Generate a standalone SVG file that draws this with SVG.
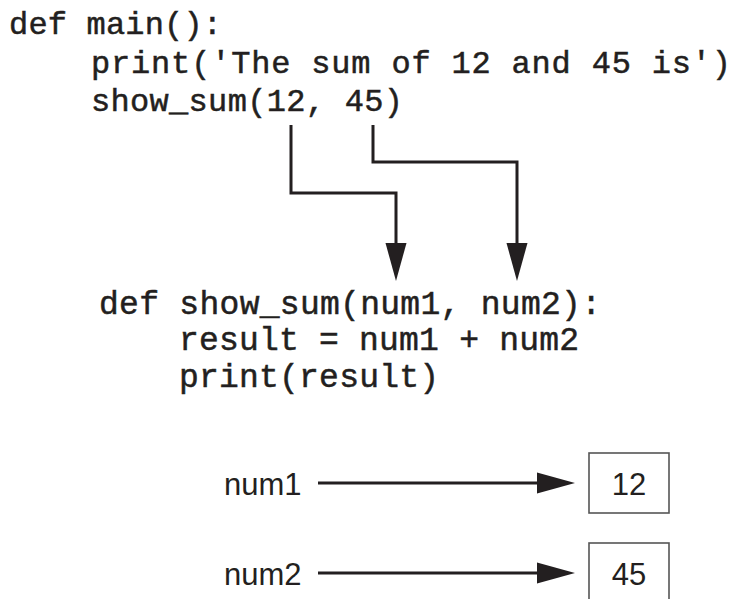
<svg xmlns="http://www.w3.org/2000/svg" width="731" height="599" viewBox="0 0 731 599">
<style>
.code{font-family:"Liberation Mono","DejaVu Sans Mono",monospace;font-size:32px;fill:#231f20;stroke:#231f20;stroke-width:0.5}
.code2{font-family:"Liberation Mono","DejaVu Sans Mono",monospace;font-size:33px;fill:#231f20;stroke:#231f20;stroke-width:0.5}
.lbl{font-family:"Liberation Sans",Arial,sans-serif;font-size:31px;fill:#231f20}
.ln{fill:none;stroke:#231f20;stroke-width:3}
.box{fill:#fff;stroke:#555;stroke-width:1.6}
</style>
<defs>
<marker id="ah" markerUnits="userSpaceOnUse" markerWidth="40" markerHeight="22" refX="20" refY="11" orient="auto" viewBox="0 0 40 22">
<path d="M1,0.5 L39,11 L1,21.5 z" fill="#231f20"/>
</marker>
</defs>
<rect width="731" height="599" fill="#fff"/>
<g id="main_code">
<text class="code" x="9" y="34" textLength="213" lengthAdjust="spacing">def main():</text>
<text class="code" x="91" y="73" textLength="640" lengthAdjust="spacing">print('The sum of 12 and 45 is')</text>
<text class="code" x="91" y="111" textLength="312" lengthAdjust="spacing">show_sum(12, 45)</text>
</g>
<g id="show_sum_code">
<text class="code2" x="99" y="314" textLength="502" lengthAdjust="spacing">def show_sum(num1, num2):</text>
<text class="code2" x="179" y="350" textLength="400" lengthAdjust="spacing">result = num1 + num2</text>
<text class="code2" x="179" y="387" textLength="260" lengthAdjust="spacing">print(result)</text>
</g>
<g id="num1">
<text class="lbl" x="224" y="495">num1</text>
</g>
<g id="box12">
<rect class="box" x="589" y="453" width="80" height="60"/>
<text class="lbl" x="629" y="495" text-anchor="middle">12</text>
</g>
<g id="num2">
<text class="lbl" x="224" y="585">num2</text>
</g>
<g id="box45">
<rect class="box" x="589" y="543" width="80" height="60"/>
<text class="lbl" x="629" y="585" text-anchor="middle">45</text>
</g>
<g id="connectors">
<path class="ln" d="M291,125 V193 H396 V262" marker-end="url(#ah)"/>
<path class="ln" d="M373,125 V162 H517 V262" marker-end="url(#ah)"/>
<path class="ln" d="M318,483 H556" marker-end="url(#ah)"/>
<path class="ln" d="M318,573 H556" marker-end="url(#ah)"/>
</g>
</svg>
